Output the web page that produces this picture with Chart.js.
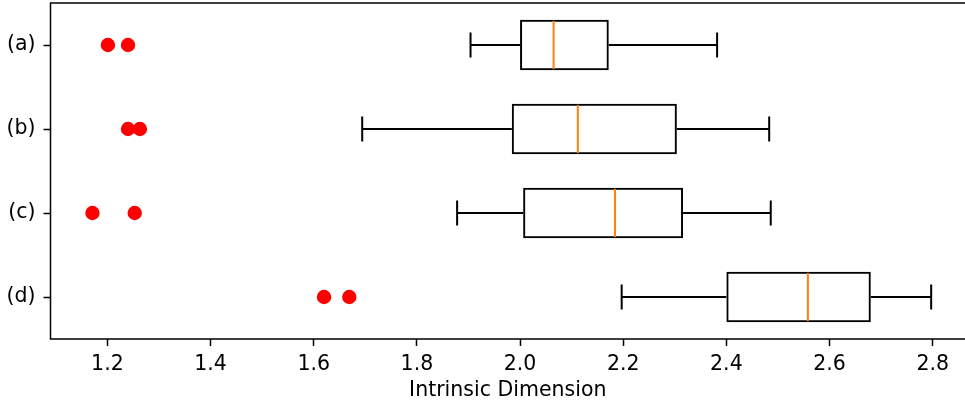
<!DOCTYPE html>
<html>
<head>
<meta charset="utf-8">
<script src="https://cdn.jsdelivr.net/npm/chart.js@4.4.0/dist/chart.umd.min.js"></script>
<style>
  html, body { margin: 0; padding: 0; background: #ffffff; }
  #wrap { width: 965px; height: 402px; position: relative; overflow: hidden; }
</style>
</head>
<body>
<div id="wrap"><canvas id="c" width="965" height="402"></canvas></div>
<script>
// ---- data ----
const categories  = ['(a)', '(b)', '(c)', '(d)'];
const whiskerLow  = [1.904, 1.694, 1.878, 2.197];
const q1          = [2.000, 1.984, 2.006, 2.400];
const median      = [2.065, 2.112, 2.184, 2.558];
const q3          = [2.172, 2.304, 2.316, 2.680];
const whiskerHigh = [2.382, 2.483, 2.486, 2.797];
const outliers    = [[1.201, 1.240], [1.240, 1.263], [1.171, 1.253], [1.620, 1.669]];
const xTicks      = [1.2, 1.4, 1.6, 1.8, 2.0, 2.2, 2.4, 2.6, 2.8];
const xTitle      = 'Intrinsic Dimension';

const FONT = "'DejaVu Sans', sans-serif";
const FONT_SIZE = 20.5;
const LINE_W = 2;

const boxData = categories.map((c, i) => ({ y: c, x: [q1[i], q3[i]] }));
const outlierData = [];
outliers.forEach((arr, i) => arr.forEach(v => outlierData.push({ x: v, y: categories[i] })));

const boxParts = {
  id: 'boxParts',
  afterDatasetsDraw(chart) {
    const ctx = chart.ctx;
    const xs = chart.scales.x, ys = chart.scales.y;
    const unit = Math.abs(ys.getPixelForValue(1) - ys.getPixelForValue(0));
    ctx.save();
    ctx.lineWidth = LINE_W;
    ctx.lineCap = 'butt';
    categories.forEach((c, i) => {
      const yc = ys.getPixelForValue(i);
      const capH = unit * 0.15;
      ctx.strokeStyle = '#000000';
      ctx.beginPath();
      ctx.moveTo(xs.getPixelForValue(whiskerLow[i]), yc);
      ctx.lineTo(xs.getPixelForValue(q1[i]), yc);
      ctx.moveTo(xs.getPixelForValue(q3[i]), yc);
      ctx.lineTo(xs.getPixelForValue(whiskerHigh[i]), yc);
      const xl = xs.getPixelForValue(whiskerLow[i]);
      const xh = xs.getPixelForValue(whiskerHigh[i]);
      ctx.moveTo(xl, yc - capH); ctx.lineTo(xl, yc + capH);
      ctx.moveTo(xh, yc - capH); ctx.lineTo(xh, yc + capH);
      ctx.stroke();
      const boxH = unit * 0.3 - LINE_W / 2;
      const xm = xs.getPixelForValue(median[i]);
      ctx.strokeStyle = '#ff7f0e';
      ctx.beginPath();
      ctx.moveTo(xm, yc - boxH); ctx.lineTo(xm, yc + boxH);
      ctx.stroke();
    });
    // frame: top, left, bottom spines (right spine falls outside the picture)
    const a = chart.chartArea;
    ctx.strokeStyle = '#000000';
    ctx.lineWidth = 1.5;
    ctx.beginPath();
    ctx.moveTo(a.right + 2, a.top);
    ctx.lineTo(a.left, a.top);
    ctx.lineTo(a.left, a.bottom);
    ctx.lineTo(a.right + 2, a.bottom);
    ctx.stroke();
    ctx.restore();
  }
};

new Chart(document.getElementById('c'), {
  type: 'bar',
  data: {
    labels: categories,
    datasets: [
      {
        type: 'bar',
        data: boxData,
        backgroundColor: 'rgba(0,0,0,0)',
        borderColor: '#000000',
        borderWidth: LINE_W,
        borderSkipped: false,
        barPercentage: 0.6,
        categoryPercentage: 1.0,
        order: 1
      },
      {
        type: 'scatter',
        data: outlierData,
        backgroundColor: '#ff0000',
        borderColor: '#ff0000',
        borderWidth: 0,
        pointRadius: 7.2,
        pointHoverRadius: 7.2,
        order: 0
      }
    ]
  },
  options: {
    indexAxis: 'y',
    responsive: false,
    animation: false,
    devicePixelRatio: 1,
    layout: { autoPadding: false, padding: { top: 3, left: 0, right: 0, bottom: 0 } },
    plugins: { legend: { display: false }, tooltip: { enabled: false } },
    scales: {
      x: {
        type: 'linear',
        position: 'bottom',
        min: 1.0897,
        max: 2.8626,
        afterBuildTicks(scale) { scale.ticks = xTicks.map(v => ({ value: v })); },
        afterFit(scale) { scale.height = 63; scale.paddingLeft = 0; scale.paddingRight = 0; },
        grid: { display: true, drawOnChartArea: false, drawTicks: true, tickLength: 7, tickWidth: 1.5, tickColor: '#000000' },
        border: { display: false },
        ticks: {
          color: '#000000',
          font: { family: FONT, size: FONT_SIZE },
          padding: 6,
          maxRotation: 0,
          autoSkip: false,
          callback: v => v.toFixed(1)
        },
        title: {
          display: true,
          text: xTitle,
          color: '#000000',
          font: { family: FONT, size: FONT_SIZE },
          padding: { top: 0, bottom: -1 }
        }
      },
      y: {
        type: 'category',
        position: 'left',
        offset: true,
        afterFit(scale) { scale.width = 50.5; scale.paddingTop = 0; scale.paddingBottom = 0; },
        grid: { display: true, drawOnChartArea: false, drawTicks: true, tickLength: 7, tickWidth: 1.5, tickColor: '#000000', offset: false },
        border: { display: false },
        ticks: {
          color: '#000000',
          font: { family: FONT, size: FONT_SIZE },
          padding: 8
        }
      }
    }
  },
  plugins: [boxParts]
});
</script>
</body>
</html>
